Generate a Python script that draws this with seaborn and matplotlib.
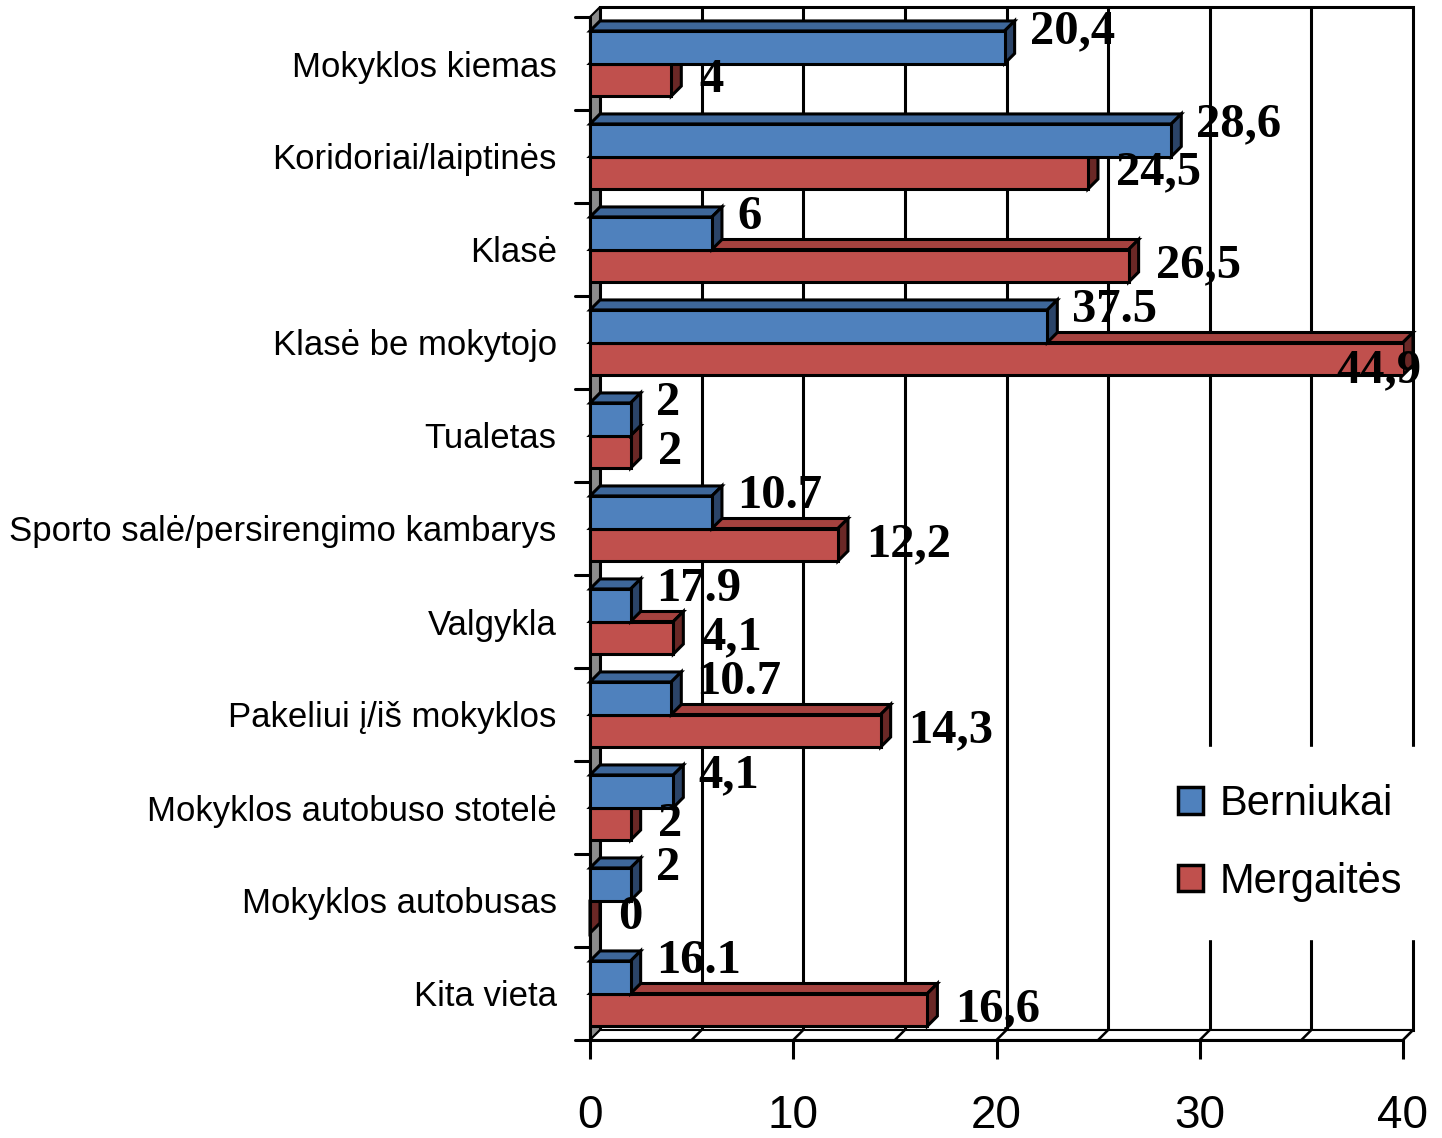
import numpy as np
import pandas as pd
import seaborn as sns
import matplotlib.pyplot as plt
from matplotlib.patches import Polygon, Patch

# kategorijos (iš viršaus į apačią)
vietos = ["Mokyklos kiemas", "Koridoriai/laiptinės", "Klasė", "Klasė be mokytojo",
          "Tualetas", "Sporto salė/persirengimo kambarys", "Valgykla",
          "Pakeliui į/iš mokyklos", "Mokyklos autobuso stotelė",
          "Mokyklos autobusas", "Kita vieta"]
berniukai = [20.4, 28.6, 6, 22.5, 2, 6, 2, 4, 4.1, 2, 2]
mergaites = [4, 24.5, 26.5, 44.9, 2, 12.2, 4.1, 14.3, 2, 0, 16.6]
berniukai_zymes = ["20,4", "28,6", "6", "37.5", "2", "10.7", "17.9", "10.7", "4,1", "2", "16.1"]
mergaites_zymes = ["4", "24,5", "26,5", "44,9", "2", "12,2", "4,1", "14,3", "2", "0", "16,6"]
x_ticks = [0, 10, 20, 30, 40]

BLUE, RED = "#4F81BD", "#C0504D"
BLUE_TOP, BLUE_SIDE = "#3E679A", "#2B4468"
RED_TOP, RED_SIDE = "#A5423F", "#6A2826"

df = pd.DataFrame({
    "vieta": vietos * 2,
    "procentai": berniukai + mergaites,
    "lytis": ["Berniukai"] * len(vietos) + ["Mergaitės"] * len(vietos),
})

sns.set_style("white")
plt.rcParams["font.family"] = ["Liberation Sans", "DejaVu Sans"]
plt.rcParams["text.color"] = "black"
plt.rcParams["xtick.color"] = "black"
plt.rcParams["ytick.color"] = "black"
NARROW = ["Liberation Sans Narrow", "Liberation Sans", "DejaVu Sans"]
SERIF = ["Liberation Serif", "DejaVu Serif"]

W, H = 1442, 1138
fig = plt.figure(figsize=(W / 100, H / 100), dpi=100)
ax = fig.add_axes([590 / W, 98 / H, 813 / W, 1023 / H])

sns.barplot(data=df, x="procentai", y="vieta", hue="lytis", orient="h",
            palette=[BLUE, RED], saturation=1, width=0.7, edgecolor="black",
            linewidth=2.2, legend=False, ax=ax)

XMAX = 40
ax.set_xlim(0, XMAX)
ax.set_ylim(len(vietos) - 0.5, -0.5)
for s in ax.spines.values():
    s.set_visible(False)
ax.set_xlabel("")
ax.set_ylabel("")


def px(dxp, dyp):
    """display pixel offset -> data offset"""
    p0 = ax.transData.transform((0, 0))
    p1 = ax.transData.inverted().transform((p0[0] + dxp, p0[1] + dyp))
    return p1[0], p1[1]


DX, DY = px(10, 10)          # depth of the 3D box
y_top, y_bot = -0.5, len(vietos) - 0.5
LW = 2.2

# back wall
ax.add_patch(Polygon([(DX, y_top + DY), (XMAX + DX, y_top + DY), (XMAX + DX, y_bot + DY),
                      (DX, y_bot + DY)], closed=True, facecolor="white",
                     edgecolor="black", lw=LW, clip_on=False, zorder=1))
for g in np.arange(5, XMAX, 5):
    ax.plot([g + DX, g + DX], [y_top + DY, y_bot + DY], color="black", lw=LW,
            clip_on=False, zorder=1.5)
# left wall
ax.add_patch(Polygon([(0, y_top), (DX, y_top + DY), (DX, y_bot + DY), (0, y_bot)],
                     closed=True, facecolor="#8C8C8C", edgecolor="black", lw=1.5,
                     clip_on=False, zorder=2))
# floor
ax.add_patch(Polygon([(0, y_bot), (XMAX, y_bot), (XMAX + DX, y_bot + DY), (DX, y_bot + DY)],
                     closed=True, facecolor="white", edgecolor="black", lw=1.5,
                     clip_on=False, zorder=2))
for g in np.arange(5, XMAX + 1, 5):
    ax.plot([g, g + DX], [y_bot, y_bot + DY], color="black", lw=1.8, clip_on=False, zorder=2.1)

# front axes lines and boundary ticks
tl, _ = px(-15, 0)
ax.plot([0, 0], [y_top, y_bot], color="black", lw=LW, clip_on=False, zorder=3)
ax.plot([tl, XMAX], [y_bot, y_bot], color="black", lw=LW, clip_on=False, zorder=3)
for b in np.arange(y_top, y_bot, 1.0):
    ax.plot([tl, 0], [b, b], color="black", lw=LW, clip_on=False, zorder=3)

# 3D faces for bars + value labels
faces = [(BLUE_TOP, BLUE_SIDE), (RED_TOP, RED_SIDE)]
for ci, cont in enumerate(ax.containers):
    top_c, side_c = faces[ci]
    zs = berniukai_zymes if ci == 0 else mergaites_zymes
    for i, rect in enumerate(cont):
        x0, y0 = rect.get_x(), rect.get_y()
        w, h = rect.get_width(), rect.get_height()
        xe = min(x0 + w, XMAX)
        z = 10 + (20 - (y0 + h / 2)) * 2 + (0.5 if ci == 0 else 0)
        rect.set_zorder(z + 0.01)
        ax.add_patch(Polygon([(x0, y0), (xe, y0), (xe + DX, y0 + DY), (x0 + DX, y0 + DY)],
                             closed=True, facecolor=top_c, edgecolor="black", lw=LW,
                             clip_on=False, zorder=z))
        ax.add_patch(Polygon([(xe, y0), (xe + DX, y0 + DY), (xe + DX, y0 + h + DY), (xe, y0 + h)],
                             closed=True, facecolor=side_c, edgecolor="black", lw=LW,
                             clip_on=False, zorder=z))
        kw = dict(textcoords="offset points", va="center", fontsize=35,
                  fontweight="bold", family=SERIF, color="black", annotation_clip=False)
        if x0 + w > XMAX:
            ax.annotate(zs[i], (xe + DX, y0 + h / 2), xytext=(6, -8), ha="right",
                        zorder=60, **kw)
        elif ci == 0:
            ax.annotate(zs[i], (xe, y0), xytext=(18, 0), ha="left", zorder=5, **kw)
        else:
            ax.annotate(zs[i], (xe, y0 + h / 2), xytext=(20, 0), ha="left", zorder=60, **kw)

# ticks
ax.set_xticks(x_ticks)
ax.set_xticklabels([str(t) for t in x_ticks], family=NARROW, fontsize=33)
ax.tick_params(axis="x", bottom=True, length=14, width=LW, pad=25, color="black")
ax.tick_params(axis="y", left=False, length=0, pad=24, labelsize=25)
for t in ax.get_yticklabels():
    t.set_family(["Liberation Sans", "DejaVu Sans"])
    t.set_color("black")

# legend
handles = [Patch(facecolor=BLUE, edgecolor="black", lw=2.5, label="Berniukai"),
           Patch(facecolor=RED, edgecolor="black", lw=2.5, label="Mergaitės")]
leg = fig.legend(handles=handles, loc="center", bbox_to_anchor=(1290 / W, 1 - 843 / H),
                 prop={"family": NARROW, "size": 30}, handlelength=0.6, handleheight=0.6,
                 handletextpad=0.4, labelspacing=0.9, borderpad=0.9, frameon=True,
                 fancybox=False, framealpha=1)
leg.get_frame().set_edgecolor("white")
leg.set_zorder(100)

fig.savefig("out.png", dpi=100)
